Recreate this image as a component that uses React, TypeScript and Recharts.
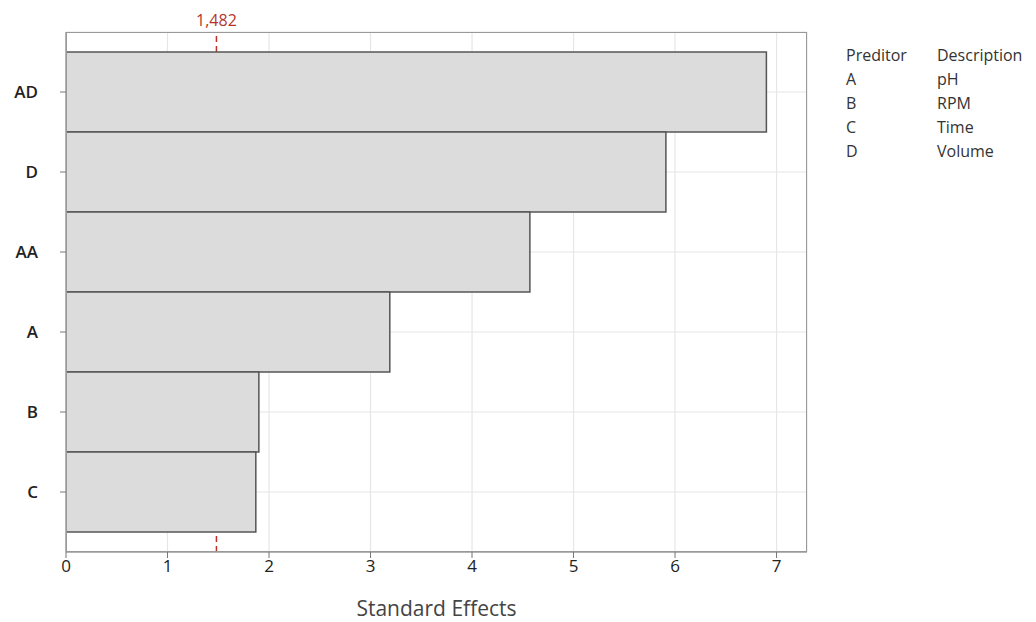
import React from 'react';
import { BarChart, Bar, XAxis, YAxis, CartesianGrid, ReferenceLine, Label } from 'recharts';

// Terms and their standardized effects (Pareto order, largest on top)
const terms = ["AD", "D", "AA", "A", "B", "C"];
const effects = [6.9, 5.91, 4.57, 3.19, 1.9, 1.87];
const xTicks = [0, 1, 2, 3, 4, 5, 6, 7];
const criticalValue = 1.482;

// Legend table on the right
const predictors = ["A", "B", "C", "D"];
const descriptions = ["pH", "RPM", "Time", "Volume"];

const data = terms.map((t, i) => ({ term: t, effect: effects[i] }));

const font = '"Open Sans", "Noto Sans", sans-serif';

const App: React.FC = () => {
  return (
    <div style={{ position: 'absolute', left: 0, top: 0, width: 1036, height: 622, background: '#fff', fontFamily: font }}>
      <BarChart
        width={1036}
        height={622}
        data={data}
        layout="vertical"
        barCategoryGap={0}
        margin={{ top: 32, right: 229, bottom: 0, left: 0 }}
      >
        <CartesianGrid stroke="#e6e6e6" strokeWidth={1.2} />
        <XAxis
          type="number"
          domain={[0, 7.3]}
          ticks={xTicks}
          height={70}
          allowDataOverflow
          stroke="#777"
          tickLine={{ stroke: '#777' }}
          tickSize={6}
          tick={{ fill: '#222', fontSize: 17, fontFamily: font }}
        >
          <Label
            value="Standard Effects"
            position="insideBottom"
            offset={6}
            style={{ fill: '#444', fontSize: 21, fontWeight: 500, fontFamily: font }}
          />
        </XAxis>
        <YAxis
          type="category"
          dataKey="term"
          width={66}
          padding={{ top: 20, bottom: 20 }}
          stroke="#777"
          tickLine={{ stroke: '#777' }}
          tickSize={6}
          tick={{ fill: '#222', fontSize: 17, fontWeight: 600, fontFamily: font, dx: -20 }}
        />
        {/* critical value line sits behind the bars */}
        <ReferenceLine
          x={criticalValue}
          stroke="#c0302a"
          strokeWidth={1.5}
          strokeDasharray="6 4"
          zIndex={250}
        >
          <Label
            value="1,482"
            position="top"
            offset={6}
            style={{ fill: '#b8322c', fontSize: 16, fontFamily: font }}
          />
        </ReferenceLine>
        <Bar dataKey="effect" fill="#dcdcdc" stroke="#555" strokeWidth={1.5} isAnimationActive={false} />
      </BarChart>
      {/* plot frame */}
      <div style={{ position: 'absolute', left: 66, top: 32, width: 741, height: 520, border: '1px solid #999', boxSizing: 'border-box', pointerEvents: 'none' }} />
      {/* predictor / description table */}
      <div style={{ position: 'absolute', left: 846, top: 43, fontSize: 16, color: '#333', lineHeight: '24px' }}>
        <div style={{ display: 'flex' }}>
          <div style={{ width: 91 }}>Preditor</div>
          <div>Description</div>
        </div>
        {predictors.map((p, i) => (
          <div key={p} style={{ display: 'flex' }}>
            <div style={{ width: 91 }}>{p}</div>
            <div>{descriptions[i]}</div>
          </div>
        ))}
      </div>
    </div>
  );
};

export default App;
